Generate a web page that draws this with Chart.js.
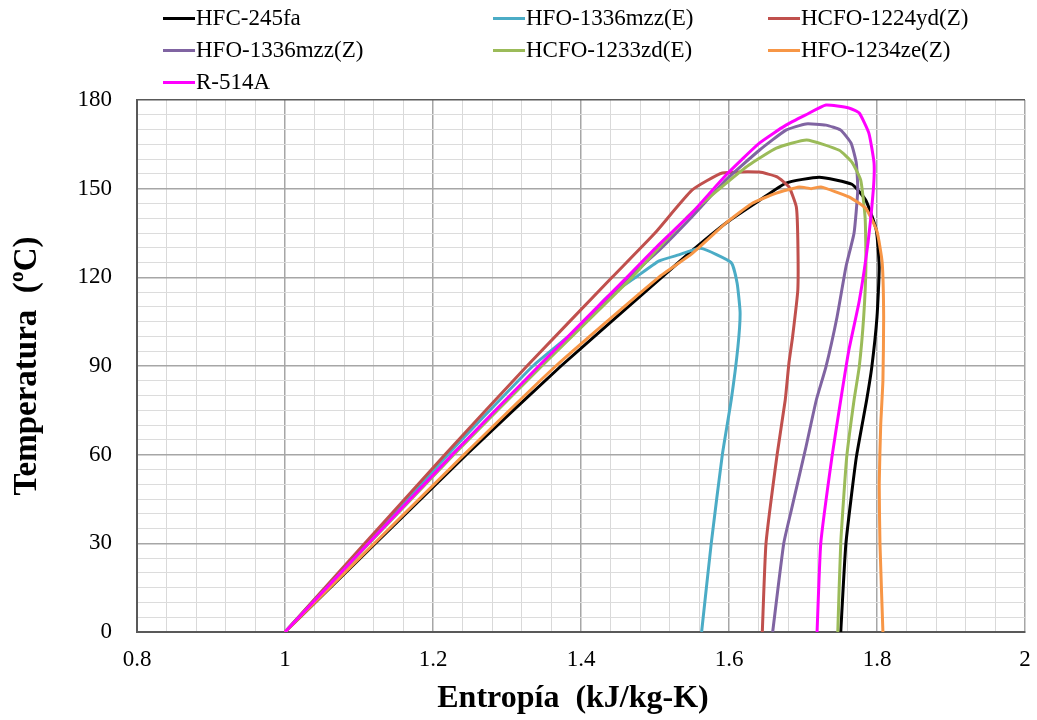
<!DOCTYPE html>
<html>
<head>
<meta charset="utf-8">
<script src="https://cdn.jsdelivr.net/npm/chart.js@4.4.1/dist/chart.umd.min.js"></script>
<style>
body { margin: 0; background: #fff; }
#wrap { position: relative; width: 1037px; height: 720px; }
#legend { position: absolute; left: 0; top: 0; width: 1037px; height: 100px; font-family: "Liberation Serif", serif; font-size: 23px; color: #000; }
.item { position: absolute; white-space: nowrap; height: 26px; line-height: 26px; }
.item i { display: inline-block; width: 32px; height: 3px; vertical-align: middle; margin-right: 1px; position: relative; top: -1px; }
</style>
</head>
<body>
<div id="wrap">
<canvas id="tsChart" width="1037" height="720"></canvas>
<div id="legend"></div>
</div>
<script>
// curvas de saturación: [entropía, temperatura]
var hfc245fa = [[1.000,0],[1.245,60],[1.373,90],[1.509,120],[1.550,129],[1.596,138.4],[1.641,146],[1.677,151.9],[1.722,153.9],[1.766,151.5],[1.785,146],[1.799,136],[1.803,123.5],[1.800,106.6],[1.793,89.7],[1.786,78.5],[1.772,59],[1.758,30],[1.751,0]];
var hfo1336mzzE = [[1.000,0],[1.220,60],[1.335,90],[1.397,103],[1.434,113],[1.474,120],[1.505,125.5],[1.532,127.6],[1.562,129.8],[1.603,125],[1.611,118],[1.615,108],[1.612,96.4],[1.603,78.5],[1.591,60],[1.576,30],[1.563,0]];
var hcfo1224ydZ = [[1.000,0],[1.216,60],[1.327,90],[1.442,120],[1.500,135],[1.550,149.5],[1.591,155.3],[1.641,155.6],[1.665,154],[1.681,150.6],[1.691,143.8],[1.693,132.6],[1.693,115.7],[1.686,100],[1.681,91],[1.676,78.5],[1.665,60],[1.650,30],[1.645,0]];
var hfo1336mzzZ = [[1.000,0],[1.226,60],[1.345,90],[1.465,120],[1.505,129],[1.550,140.5],[1.596,153],[1.641,163],[1.677,169.8],[1.704,171.9],[1.731,171.5],[1.751,169.8],[1.765,165.4],[1.772,158.7],[1.774,149.5],[1.769,135],[1.758,123.5],[1.746,106.6],[1.731,89.7],[1.718,78.5],[1.704,62.6],[1.684,41],[1.674,30],[1.659,0]];
var hcfo1233zdE = [[1.000,0],[1.228,60],[1.347,90],[1.469,120],[1.505,130],[1.550,142],[1.596,151.8],[1.627,158],[1.664,163.7],[1.705,166.5],[1.749,163],[1.766,159],[1.778,152.9],[1.784,140],[1.785,123.5],[1.782,106.6],[1.776,89.7],[1.769,78.5],[1.759,59],[1.751,30],[1.747,0]];
var hfo1234zeZ = [[1.000,0],[1.242,60],[1.366,90],[1.505,120],[1.550,128],[1.596,138.4],[1.631,145],[1.664,148.5],[1.695,150.6],[1.711,150],[1.724,150.6],[1.762,147.2],[1.785,143.3],[1.800,135.5],[1.807,125],[1.809,106.6],[1.808,85],[1.805,70],[1.803,50],[1.804,30],[1.808,0]];
var r514a = [[1.000,0],[1.226,60],[1.343,90],[1.462,120],[1.505,131],[1.550,141.8],[1.596,154.6],[1.641,165.4],[1.677,171.5],[1.704,175],[1.731,178.3],[1.762,177.3],[1.776,175.6],[1.789,168.8],[1.796,158.7],[1.795,149.5],[1.788,132],[1.776,112],[1.762,95.4],[1.751,78.5],[1.739,59],[1.724,30],[1.719,0]];

var names = ['HFC-245fa', 'HFO-1336mzz(E)', 'HCFO-1224yd(Z)', 'HFO-1336mzz(Z)', 'HCFO-1233zd(E)', 'HFO-1234ze(Z)', 'R-514A'];
var series = [hfc245fa, hfo1336mzzE, hcfo1224ydZ, hfo1336mzzZ, hcfo1233zdE, hfo1234zeZ, r514a];
var colors = ['#000000', '#4bacc6', '#c0504d', '#8064a2', '#9bbb59', '#f79646', '#ff00ff'];

var xTicks = [0.8, 1, 1.2, 1.4, 1.6, 1.8, 2];
var yTicks = [0, 30, 60, 90, 120, 150, 180];

function isMain(v, list) {
	for (var i = 0; i < list.length; i++) {
		if (Math.abs(v - list[i]) < 1e-6) return true;
	}
	return false;
}

var datasets = series.map(function (s, i) {
	return {
		label: names[i],
		data: s.map(function (p) { return { x: p[0], y: p[1] }; }),
		borderColor: colors[i],
		backgroundColor: colors[i],
		borderWidth: 3,
		showLine: true,
		pointRadius: 0,
		tension: 0.15,
		order: series.length - i
	};
});

// leyenda en tres columnas
var legendCols = [163, 493, 768];
var legendRows = [5, 37, 69];
var legend = document.getElementById('legend');
names.forEach(function (n, i) {
	var d = document.createElement('div');
	d.className = 'item';
	d.style.left = legendCols[i % 3] + 'px';
	d.style.top = legendRows[Math.floor(i / 3)] + 'px';
	d.innerHTML = '<i style="background:' + colors[i] + '"></i>' + n;
	legend.appendChild(d);
});

var ctx = document.getElementById('tsChart').getContext('2d');
var tsChart = new Chart(ctx, {
	type: 'scatter',
	data: { datasets: datasets },
	options: {
		responsive: false,
		animation: false,
		layout: { padding: { top: 100, right: 12, left: 0, bottom: 0 } },
		plugins: { legend: { display: false }, tooltip: { enabled: false } },
		scales: {
			x: {
				type: 'linear',
				min: 0.8,
				max: 2,
				afterFit: function (scale) {
					scale.height = 88;
					scale.paddingLeft = 0;
					scale.paddingRight = 0;
				},
				ticks: {
					stepSize: 0.04,
					autoSkip: false,
					maxRotation: 0,
					padding: 14,
					color: '#000',
					font: { family: 'Liberation Serif', size: 23 },
					callback: function (v) { return isMain(v, xTicks) ? String(Math.round(v * 10) / 10) : ''; }
				},
				grid: {
					drawTicks: false,
					color: function (c) { return isMain(c.tick.value, xTicks) ? '#a6a6a6' : '#d9d9d9'; },
					lineWidth: function (c) { return isMain(c.tick.value, xTicks) ? 1.5 : 1; }
				},
				border: { color: '#595959', width: 2 },
				title: {
					display: true,
					text: 'Entropía  (kJ/kg-K)  ',
					color: '#000',
					font: { family: 'Liberation Serif', size: 32, weight: 'bold' },
					padding: { top: 0, bottom: 2 }
				}
			},
			y: {
				type: 'linear',
				min: 0,
				max: 180,
				afterFit: function (scale) {
					scale.width = 137;
					scale.paddingTop = 0;
					scale.paddingBottom = 0;
				},
				ticks: {
					stepSize: 5,
					autoSkip: false,
					padding: 25,
					color: '#000',
					font: { family: 'Liberation Serif', size: 23 },
					callback: function (v) { return isMain(v, yTicks) ? String(v) : ''; }
				},
				grid: {
					drawTicks: false,
					color: function (c) {
						if (c.tick.value === 180) return '#595959';
						return isMain(c.tick.value, yTicks) ? '#a6a6a6' : '#dcdcdc';
					},
					lineWidth: function (c) { return isMain(c.tick.value, yTicks) ? 1.5 : 1; }
				},
				border: { color: '#595959', width: 2 },
				title: {
					display: true,
					text: 'Temperatura  (ºC)',
					color: '#000',
					font: { family: 'Liberation Serif', size: 33, weight: 'bold' },
					padding: { top: 8, bottom: 0 }
				}
			}
		}
	}
});
</script>
</body>
</html>
